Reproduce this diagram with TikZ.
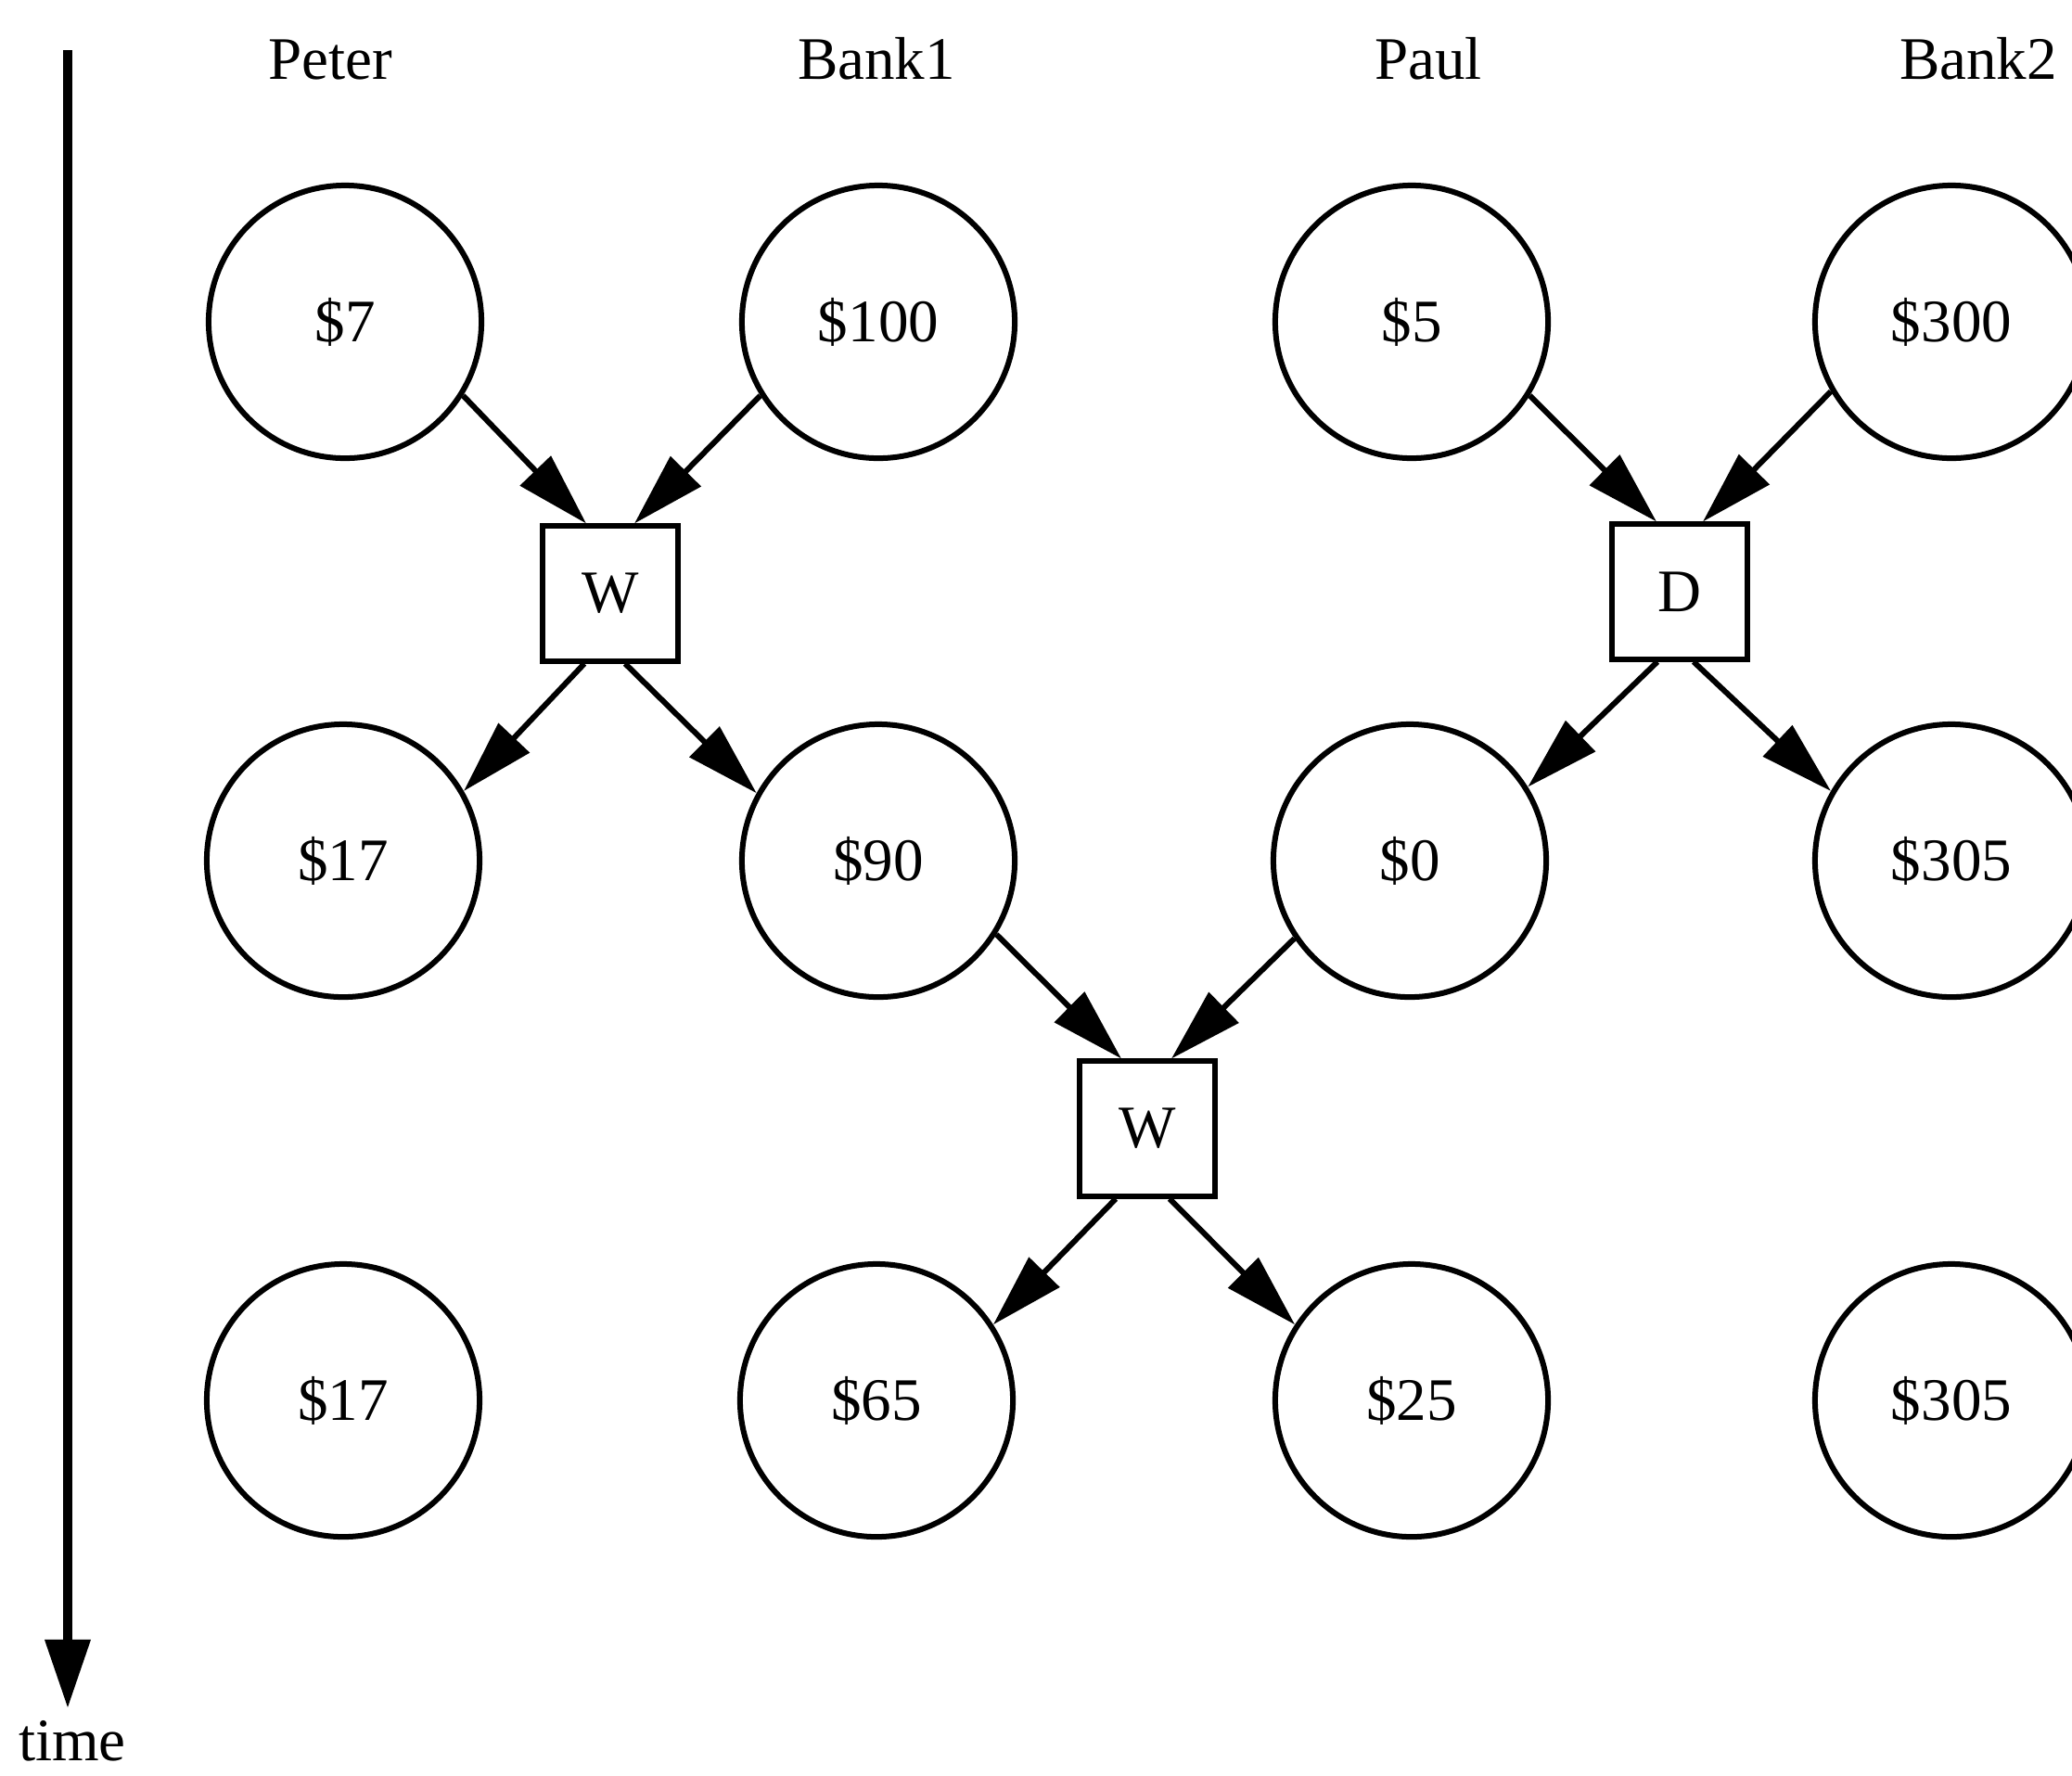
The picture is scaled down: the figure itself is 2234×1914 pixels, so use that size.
\documentclass[tikz,border=0pt]{standalone}
\usepackage{fontspec}
\setmainfont{Liberation Serif}
\usetikzlibrary{arrows.meta,calc}
\begin{document}
\begin{tikzpicture}[x=0.01cm,y=-0.01cm,
  every node/.style={font=\fontsize{18.5}{22}\selectfont},
  acct/.style={draw,circle,line width=0.06cm,minimum size=2.94cm,inner sep=0pt},
  op/.style={draw,rectangle,line width=0.06cm,minimum width=1.45cm,minimum height=1.45cm,inner sep=0pt},
  flow/.style={line width=0.06cm,-{Triangle[length=0.79cm,width=0.45cm]}},
  who/.style={anchor=base,inner sep=0pt}]
\useasboundingbox (0,0) rectangle (2234,1914);

% column headings
\node[who] (hpeter) at (356,85) {Peter};
\node[who] (hbank1) at (945,85) {Bank1};
\node[who] (hpaul)  at (1540,85) {Paul};
\node[who] (hbank2) at (2133,85) {Bank2};

% time axis
\coordinate (ttop) at (73,54);
\coordinate (tend) at (73,1842);
\draw[line width=0.1cm,-{Triangle[length=0.74cm,width=0.47cm]}] (ttop) -- (tend);
\node[who] (time) at (78,1898) {time};

% accounts, row 1
\node[acct] (a1) at (372,347)  {\$7};
\node[acct] (b1) at (947,347)  {\$100};
\node[acct] (c1) at (1522,347) {\$5};
\node[acct] (d1) at (2104,347) {\$300};
% row 2
\node[acct] (a2) at (370,928)  {\$17};
\node[acct] (b2) at (947,928)  {\$90};
\node[acct] (c2) at (1520,928) {\$0};
\node[acct] (d2) at (2104,928) {\$305};
% row 3
\node[acct] (a3) at (370,1510)  {\$17};
\node[acct] (b3) at (945,1510)  {\$65};
\node[acct] (c3) at (1522,1510) {\$25};
\node[acct] (d3) at (2104,1510) {\$305};

% operations
\node[op] (w1) at (658,640)   {W};
\node[op] (dd) at (1811,638)  {D};
\node[op] (w2) at (1237,1217) {W};

% flows
\draw[flow] (a1.-32) -- ($(w1.north)+(-26,0)$);
\draw[flow] (b1.212) -- ($(w1.north)+(26,0)$);
\draw[flow] ($(w1.south)+(-28,0)$) -- (a2.30);
\draw[flow] ($(w1.south)+(16,0)$) -- (b2.151);

\draw[flow] (c1.-32) -- ($(dd.north)+(-25,0)$);
\draw[flow] (d1.210) -- ($(dd.north)+(25,0)$);
\draw[flow] ($(dd.south)+(-24,0)$) -- (c2.32);
\draw[flow] ($(dd.south)+(15,0)$) -- (d2.150);

\draw[flow] (b2.-32) -- ($(w2.north)+(-28,0)$);
\draw[flow] (c2.214) -- ($(w2.north)+(26,0)$);
\draw[flow] ($(w2.south)+(-34,0)$) -- (b3.33);
\draw[flow] ($(w2.south)+(24,0)$) -- (c3.147);
\end{tikzpicture}
\end{document}
